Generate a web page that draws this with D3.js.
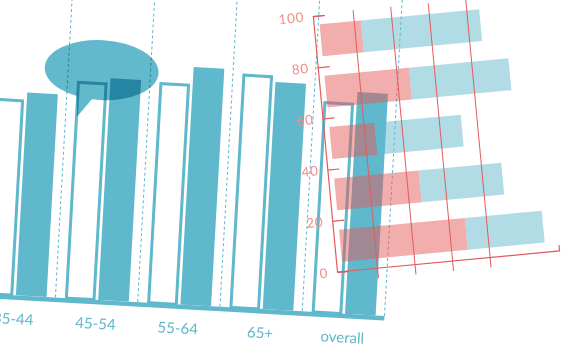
<!DOCTYPE html>
<html><head><meta charset="utf-8">
<script src="https://cdn.jsdelivr.net/npm/d3@7"></script>
<style>
html,body{margin:0;padding:0;background:#fff;overflow:hidden}
svg{display:block}
</style></head><body>
<svg id="c" width="562" height="347"></svg>
<script>
// ---- data ----
const ageGroups = ["35-44", "45-54", "55-64", "65+", "overall"];
const outlineValues = [75.4, 83.7, 85, 90, 81.2];
const filledValues = [78.1, 85.4, 91.5, 87.5, 85.4];
const rowNames = ["a", "b", "c", "d", "e"];
const pinkValues = [22, 45, 24, 45, 67];
const lightValues = [63, 53, 46, 44, 41];
const yTicks = [0, 20, 40, 60, 80, 100];
const gridTicks = [20, 40, 60, 80];

const BLUE = "#5fb8cb";
const RED = "#e55a5c";
const svg = d3.select("#c");

// ---- left chart (tilted grouped bars) ----
const P = 82.4;
const left = svg.append("g").attr("transform", "translate(55.4,297.5) rotate(3.2)");
const xg = d3.scaleBand().domain(ageGroups).range([-P, 4 * P]);
const xs = d3.scaleBand().domain(["outline", "filled"]).range([9.5, 73.5]).paddingInner(0.08);
const hy = d3.scaleLinear().domain([0, 100]).range([0, -260]);
const bw = xs.bandwidth();

// dashed separators
const sepPos = ageGroups.map(c => xg(c)).concat([xg.range()[1]]);
left.selectAll("line.sep").data(sepPos).join("line")
  .attr("class", "sep")
  .attr("x1", d => d).attr("x2", d => d)
  .attr("y1", 0).attr("y2", -340)
  .attr("stroke", BLUE).attr("stroke-width", 1).attr("stroke-dasharray", "3,2.5");

// outline bars
left.selectAll("rect.out").data(ageGroups).join("rect")
  .attr("class", "out")
  .attr("x", c => xg(c) + xs("outline") + 1.5)
  .attr("width", bw - 3)
  .attr("y", (c, i) => hy(outlineValues[i]) + 1.5)
  .attr("height", (c, i) => -hy(outlineValues[i]) - 1.5)
  .attr("fill", "#fff").attr("stroke", BLUE).attr("stroke-width", 3);

// filled bars
left.selectAll("rect.fill").data(ageGroups).join("rect")
  .attr("class", "fill")
  .attr("x", c => xg(c) + xs("filled"))
  .attr("width", bw)
  .attr("y", (c, i) => hy(filledValues[i]))
  .attr("height", (c, i) => -hy(filledValues[i]))
  .attr("fill", BLUE);

// baseline
left.append("line")
  .attr("x1", xg.range()[0] - 30).attr("x2", xg.range()[1])
  .attr("y1", 2.3).attr("y2", 2.3)
  .attr("stroke", BLUE).attr("stroke-width", 4.6);

// category labels
left.selectAll("text.cat").data(ageGroups).join("text")
  .attr("class", "cat")
  .attr("x", c => xg(c) + (xs("outline") + xs("filled") + bw) / 2)
  .attr("y", 29)
  .attr("text-anchor", "middle")
  .attr("font-family", "Lato, 'Open Sans', sans-serif")
  .attr("font-size", 15)
  .attr("fill", BLUE)
  .text(c => c);

// speech bubble anchored on the 45-54 outline bar
const bx = xg("45-54") + xs("outline");
const by = hy(outlineValues[1]);
const bubble = left.append("g").style("mix-blend-mode", "multiply");
bubble.append("ellipse")
  .attr("cx", bx + 24).attr("cy", by - 12)
  .attr("rx", 57).attr("ry", 30)
  .attr("fill", "#62b9cc");
bubble.append("path")
  .attr("d", `M${bx + 0.5},${by + 12} L${bx + 17},${by + 16} L${bx + 2},${by + 36} Z`)
  .attr("fill", "#62b9cc");

// ---- right chart (tilted stacked horizontal bars) ----
const right = svg.append("g").attr("transform", "translate(337,272) rotate(-5.4)");
const xr = d3.scaleLinear().domain([0, 100]).range([3, 191.5]);
const yr = d3.scaleLinear().domain([0, 100]).range([0, -257]);
const yb = d3.scaleBand().domain(rowNames).range([-258, 0]).paddingInner(0.38).paddingOuter(0.19);
const x0 = xr(0) + 3;

right.selectAll("rect.pink").data(rowNames).join("rect")
  .attr("class", "pink")
  .attr("x", x0)
  .attr("width", (r, i) => xr(pinkValues[i]) - xr(0))
  .attr("y", r => yb(r)).attr("height", yb.bandwidth())
  .attr("fill", "#e45757").attr("fill-opacity", 0.49);

right.selectAll("rect.light").data(rowNames).join("rect")
  .attr("class", "light")
  .attr("x", (r, i) => x0 + xr(pinkValues[i]) - xr(0))
  .attr("width", (r, i) => xr(lightValues[i]) - xr(0))
  .attr("y", r => yb(r)).attr("height", yb.bandwidth())
  .attr("fill", BLUE).attr("fill-opacity", 0.49);

// grid lines
right.selectAll("line.grid").data(gridTicks).join("line")
  .attr("class", "grid")
  .attr("x1", d => xr(d)).attr("x2", d => xr(d))
  .attr("y1", 10).attr("y2", yr(100) - 2)
  .attr("stroke", RED).attr("stroke-width", 1);

// y axis
const yAxis = right.append("g")
  .call(d3.axisLeft(yr).tickValues(yTicks).tickSize(-12).tickSizeOuter(-12).tickPadding(9));
yAxis.selectAll("path,line").attr("stroke", RED).attr("stroke-width", 1.2);
yAxis.selectAll("text")
  .attr("font-family", "Lato, 'Open Sans', sans-serif")
  .attr("font-size", 13.5).attr("letter-spacing", 0.6)
  .attr("fill", "#f08e88");

// x axis line
right.append("path")
  .attr("d", `M0,0H${xr(117)}V-6`)
  .attr("fill", "none").attr("stroke", RED).attr("stroke-width", 1.2);
</script>
</body></html>
